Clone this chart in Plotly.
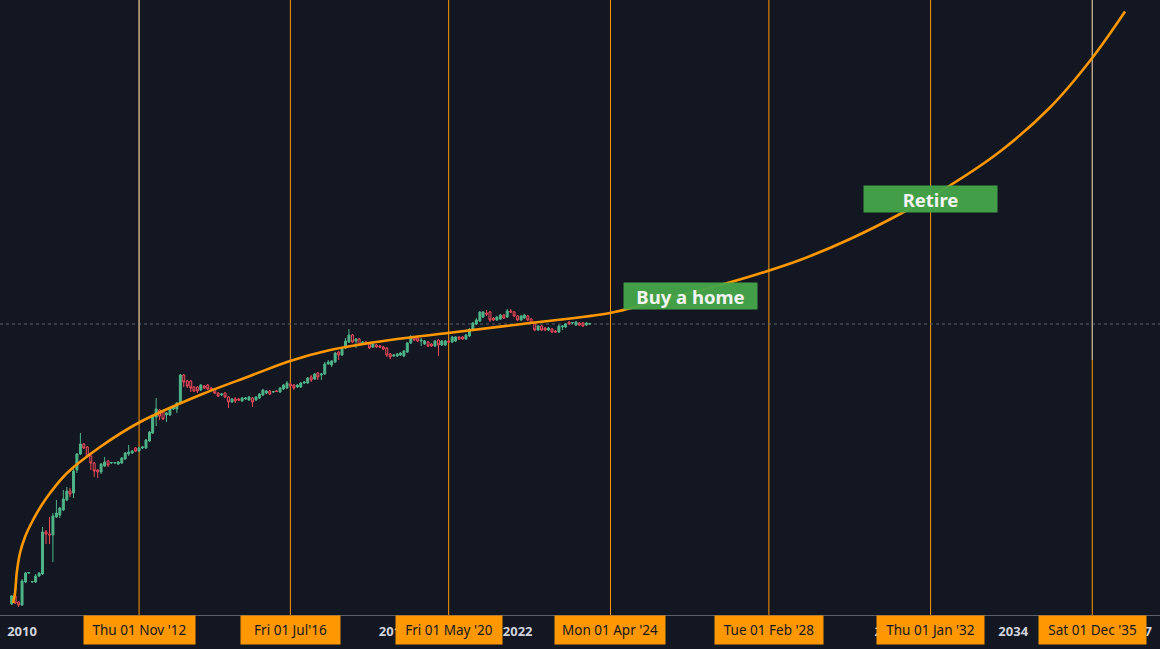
import pandas as pd
import plotly.graph_objects as go

# ---------------- data (chart units) ----------------
first_month = "2009-10-01"
opens = [11,19,13,10,33,42,33,33,39,41,83,81,80,98,100,105,115,124,122,145,161,171,168,159,152,145,143,149,154,152,152,151,152,156,161,162,167,164,167,167,174,182,198,205,203,200,200,206,206,212,240,234,234,228,228,225,229,230,227,226,222,220,222,218,213,216,216,214,216,215,217,215,217,220,222,224,223,224,223,226,227,231,230,228,228,232,232,238,236,242,240,241,251,250,253,263,260,267,273,280,274,276,271,273,271,268,270,269,268,267,261,259,259,260,259,263,272,278,277,274,271,273,271,269,275,270,270,274,273,274,278,278,276,279,286,291,294,298,302,303,297,295,296,300,298,304,303,299,295,297,299,296,292,285,289,287,285,286,284,283,288,288,293,292,290,292,292,290,291]
highs = [20,20,14,36,43,43,34,41,43,88,85,98,102,115,108,125,128,127,146,162,182,172,169,160,153,146,152,158,155,153,153,154,158,163,170,165,168,168,169,176,184,200,217,206,204,203,208,209,213,241,241,235,235,229,229,231,230,231,228,227,223,222,223,219,217,218,217,218,218,219,218,219,222,226,225,225,224,225,228,231,234,232,231,231,233,234,238,240,242,243,242,253,255,255,263,264,267,277,286,281,277,277,274,274,272,272,271,270,269,268,262,261,262,263,265,273,280,279,278,277,275,274,272,275,276,275,275,275,279,279,279,279,281,287,293,297,304,304,305,304,298,299,301,301,306,306,304,300,300,301,300,297,293,290,290,288,288,287,285,290,290,292,294,293,294,293,293,293,292]
lows = [10,11,8,9,32,41,32,32,38,40,71,71,53,97,97,104,114,118,117,142,160,166,158,145,138,137,141,148,148,151,151,150,151,155,159,161,163,163,166,166,173,181,189,195,195,193,199,205,202,211,228,227,223,223,222,224,226,225,224,221,218,219,217,207,212,212,214,213,215,214,208,214,216,219,221,220,222,223,222,225,226,228,225,227,227,231,231,233,235,235,235,240,250,248,252,255,259,266,272,272,267,269,270,271,266,267,267,267,265,258,256,258,258,259,258,262,271,274,273,269,270,268,268,268,259,269,269,272,272,273,275,275,275,278,285,290,293,297,299,293,294,294,295,296,297,302,298,294,294,296,294,291,284,284,284,284,284,282,282,282,285,287,290,291,289,289,288,289,290]
closes = [19,12,10,34,42,42.5,33.5,39,42,83,81,80,99,102,107,116,124,121,144,161,171,167,159,152,144,143,151,153,150,152.5,152.5,153,157,162,163,164,164,167,168,175,183,199,206,199,196,202,207,208,212,240,233,229,227,224,224,230,227,226,225,222,219,221,218,213,216,214,215,217,217,218,213,218,221,225,224,221,223.5,223.5,227,230,232,229,227,230,232,233,237,235,241,238,241,251,253,254,262,260,266,274,280,273,276,270,273,272,267,271,268,268,266,260,258,260,261,262,264,272,278,275,274,275,274,269,269,274,270,274,274,273,278,278,276,276,280,286,292,295,303,303,301,295,295,298,300,297,304,303,299,295,299,300,295,292,285,289,285,285,287,283,283,289,289,291,291,292.5,293,290,289,292,291.5]

curve_dates = ["2009-10-14","2009-10-31","2009-11-15","2009-12-14","2010-01-27","2010-04-08",
               "2010-06-24","2010-09-06","2011-02-03","2011-11-22","2012-11-10","2014-04-24",
               "2015-07-10","2016-06-28","2017-06-18","2018-11-30","2020-04-26","2022-04-21",
               "2024-03-28","2025-03-17","2026-06-01","2027-08-17","2028-11-02","2030-01-19",
               "2031-04-06","2032-06-20","2033-09-06","2034-11-22","2035-11-20","2036-09-16"]
curve_values = [12,22,42,62,78,95,110,122,142,168,193,220,239,254,265,275,282,292,
                302,312,324.5,338.5,355,376,401,429.5,463.5,507.5,555.5,603.5]

event_dates = ["2012-11-01","2016-07-01","2020-05-01","2024-04-01","2028-02-01","2032-01-01","2035-12-01"]
event_labels = ["Thu 01 Nov '12","Fri 01 Jul'16","Fri 01 May '20","Mon 01 Apr '24",
                "Tue 01 Feb '28","Thu 01 Jan '32","Sat 01 Dec '35"]
highlighted_events = ["2012-11-01","2035-12-01"]
highlight_top = 255

notes = ["Buy a home","Retire"]
note_dates = ["2026-03-06","2031-12-27"]
note_values = [319,416]

last_price = 291
tick_years = [2010,2013,2016,2019,2022,2025,2028,2031,2034,2037]
x_range = ["2009-06-20","2037-07-22"]
y_range = [0,615]

# ---------------- styles ----------------
BG = "#131722"
ORANGE = "#ff9800"
label_widths = [101, 89, 96, 100, 98, 97, 97]

months = pd.date_range(first_month, periods=len(closes), freq="MS")

fig = go.Figure()
fig.add_trace(go.Candlestick(
    x=months, open=opens, high=highs, low=lows, close=closes,
    increasing=dict(line=dict(color="#4fb589", width=1), fillcolor="#4fb589"),
    decreasing=dict(line=dict(color="#f04a5a", width=1), fillcolor=BG),
    whiskerwidth=0, hoverinfo="skip", showlegend=False))

fig.add_trace(go.Scatter(
    x=curve_dates, y=curve_values, mode="lines",
    line=dict(color=ORANGE, width=2.6, shape="spline", smoothing=1.0),
    hoverinfo="skip", showlegend=False))

shapes = []
for d in event_dates:
    shapes.append(dict(type="line", xref="x", yref="paper", x0=d, x1=d, y0=0, y1=1,
                       line=dict(color=ORANGE, width=1), layer="below"))
for d in highlighted_events:
    shapes.append(dict(type="line", xref="x", yref="y", x0=d, x1=d, y0=highlight_top, y1=y_range[1],
                       line=dict(color="#b2b5be", width=1), layer="below"))
shapes.append(dict(type="line", xref="paper", yref="y", x0=0, x1=1, y0=last_price, y1=last_price,
                   line=dict(color="#5d606b", width=1, dash="dot"), layer="below"))

annotations = []
for d, t, w in zip(event_dates, event_labels, label_widths):
    annotations.append(dict(x=d, xref="x", y=0, yref="paper", yanchor="top", xanchor="center",
                            text=t, showarrow=False, bgcolor=ORANGE, borderpad=5, height=18, width=w,
                            font=dict(family="Noto Sans", size=13.5, color="#131722")))
for t, d, v in zip(notes, note_dates, note_values):
    annotations.append(dict(x=d, xref="x", y=v, yref="y", text="<b>%s</b>" % t, showarrow=False,
                            bgcolor="rgba(69,164,73,0.96)", width=133, height=26, borderpad=0,
                            font=dict(family="Noto Sans", size=18.5, color="#f3f3f3")))

fig.update_layout(
    width=1160, height=649, margin=dict(l=0, r=0, t=0, b=34),
    paper_bgcolor=BG, plot_bgcolor=BG, showlegend=False, hovermode=False,
    boxgap=0.12,
    shapes=shapes, annotations=annotations,
    xaxis=dict(type="date", range=x_range, rangeslider=dict(visible=False),
               showgrid=False, zeroline=False, showline=True, linecolor="#5d6069", linewidth=1,
               tickvals=["%d-01-01" % y for y in tick_years], ticktext=[str(y) for y in tick_years],
               ticks="", ticklabelstandoff=4,
               tickfont=dict(family="Noto Sans", size=13, color="#d1d4dc", weight="bold")),
    yaxis=dict(range=y_range, visible=False, showgrid=False, zeroline=False),
)

fig.write_html("out.html", config={"displayModeBar": False})
